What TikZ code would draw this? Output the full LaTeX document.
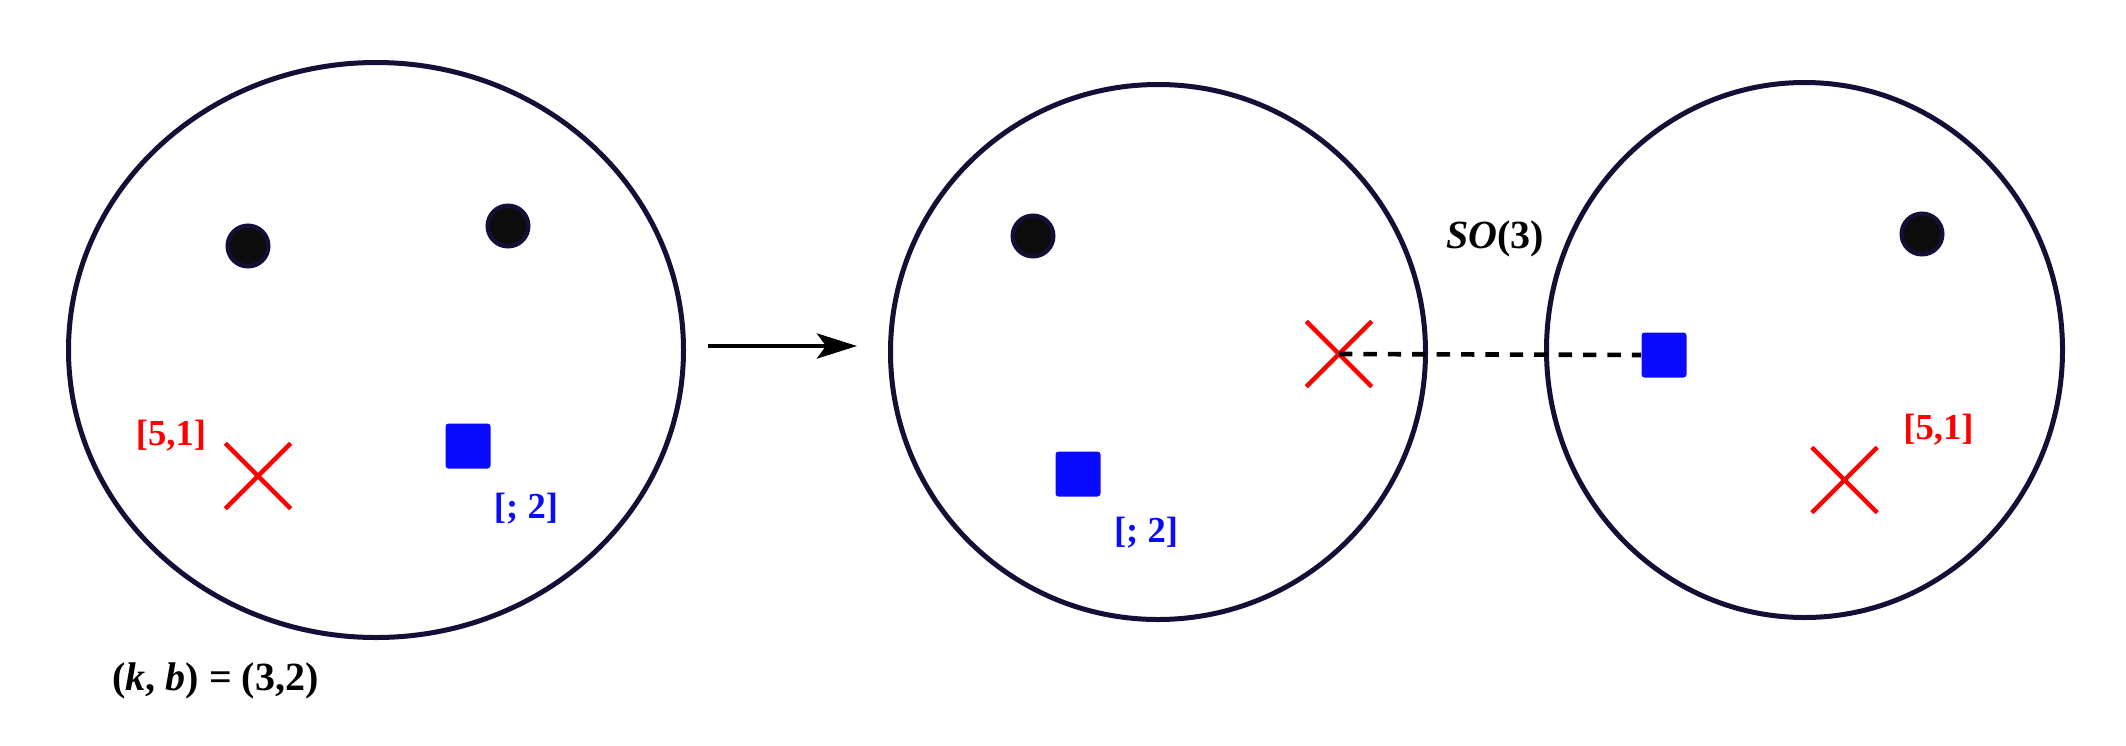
\documentclass[tikz,border=0pt]{standalone}
\usepackage{fontspec}
\setmainfont{Liberation Serif}
\usetikzlibrary{shapes.geometric,shapes.misc,arrows.meta}
\definecolor{navy}{RGB}{20,15,55}
\definecolor{dotfill}{RGB}{12,12,12}
\definecolor{sqblue}{RGB}{10,10,255}
\definecolor{xred}{RGB}{255,0,0}
\definecolor{lblue}{RGB}{10,10,255}
\begin{document}
\begin{tikzpicture}[x=0.5pt,y=-0.5pt,
  world/.style={ellipse, draw=navy, line width=2.5pt, inner sep=0pt},
  blob/.style={circle, draw=navy, fill=dotfill, line width=2.2pt, minimum size=20.3pt, inner sep=0pt},
  sq/.style={rectangle, fill=sqblue, rounded corners=1.5pt, minimum size=22.5pt, inner sep=0pt},
  xmark/.style={cross out, draw=xred, line width=2.2pt, minimum size=30.5pt, inner sep=0pt},
  smalllbl/.style={font=\bfseries\fontsize{18.3}{20}\selectfont, inner sep=0pt},
  biglbl/.style={font=\bfseries\fontsize{20}{22}\selectfont, inner sep=0pt},
  link/.style={draw=black, line width=2.3pt, dash pattern=on 6.7pt off 5.5pt},
  mapto/.style={draw=black, line width=2.4pt, -{Stealth[length=20pt,width=12.5pt,inset=4.5pt]}}
]
\useasboundingbox (0,0) rectangle (2126,745);

% worlds
\node[world, minimum width=307.5pt, minimum height=287.5pt] (wl) at (376,350) {};
\node[world, minimum width=267.5pt, minimum height=267.5pt] (wm) at (1158,352) {};
\node[world, minimum width=258pt, minimum height=267.5pt] (wr) at (1804.5,350) {};

% left world contents
\node[blob] (dl1) at (248,246) {};
\node[blob] (dl2) at (508,226) {};
\node[xmark] (xl) at (258,476) {};
\node[sq] (sl) at (468,446) {};
\node[smalllbl, text=xred] (tl51) at (171,436) {[5,1]};
\node[smalllbl, text=lblue] (tl2) at (526,509) {[; 2]};
\node[biglbl] (kb) at (215.5,681) {(\textit{k}, \textit{b}) = (3,2)};

% arrow
\coordinate (a1) at (708,346);
\coordinate (a2) at (857,346);
\draw[mapto] (a1) -- (a2);

% middle world contents
\node[blob] (dm) at (1033,236) {};
\node[sq] (sm) at (1078,474) {};
\node[xmark] (xm) at (1339,354) {};
\node[smalllbl, text=lblue] (tm2) at (1146,533) {[; 2]};

% right world contents
\node[blob] (dr) at (1922,234) {};
\node[sq] (sr) at (1664,355) {};
\node[xmark] (xr) at (1844.5,480) {};
\node[smalllbl, text=xred] (tr51) at (1938.5,430) {[5,1]};

% SO(3) link
\node[biglbl] (so) at (1495,239) {\textit{SO}(3)};
\draw[link] (xm.center) -- (sr.west);
\end{tikzpicture}
\end{document}
